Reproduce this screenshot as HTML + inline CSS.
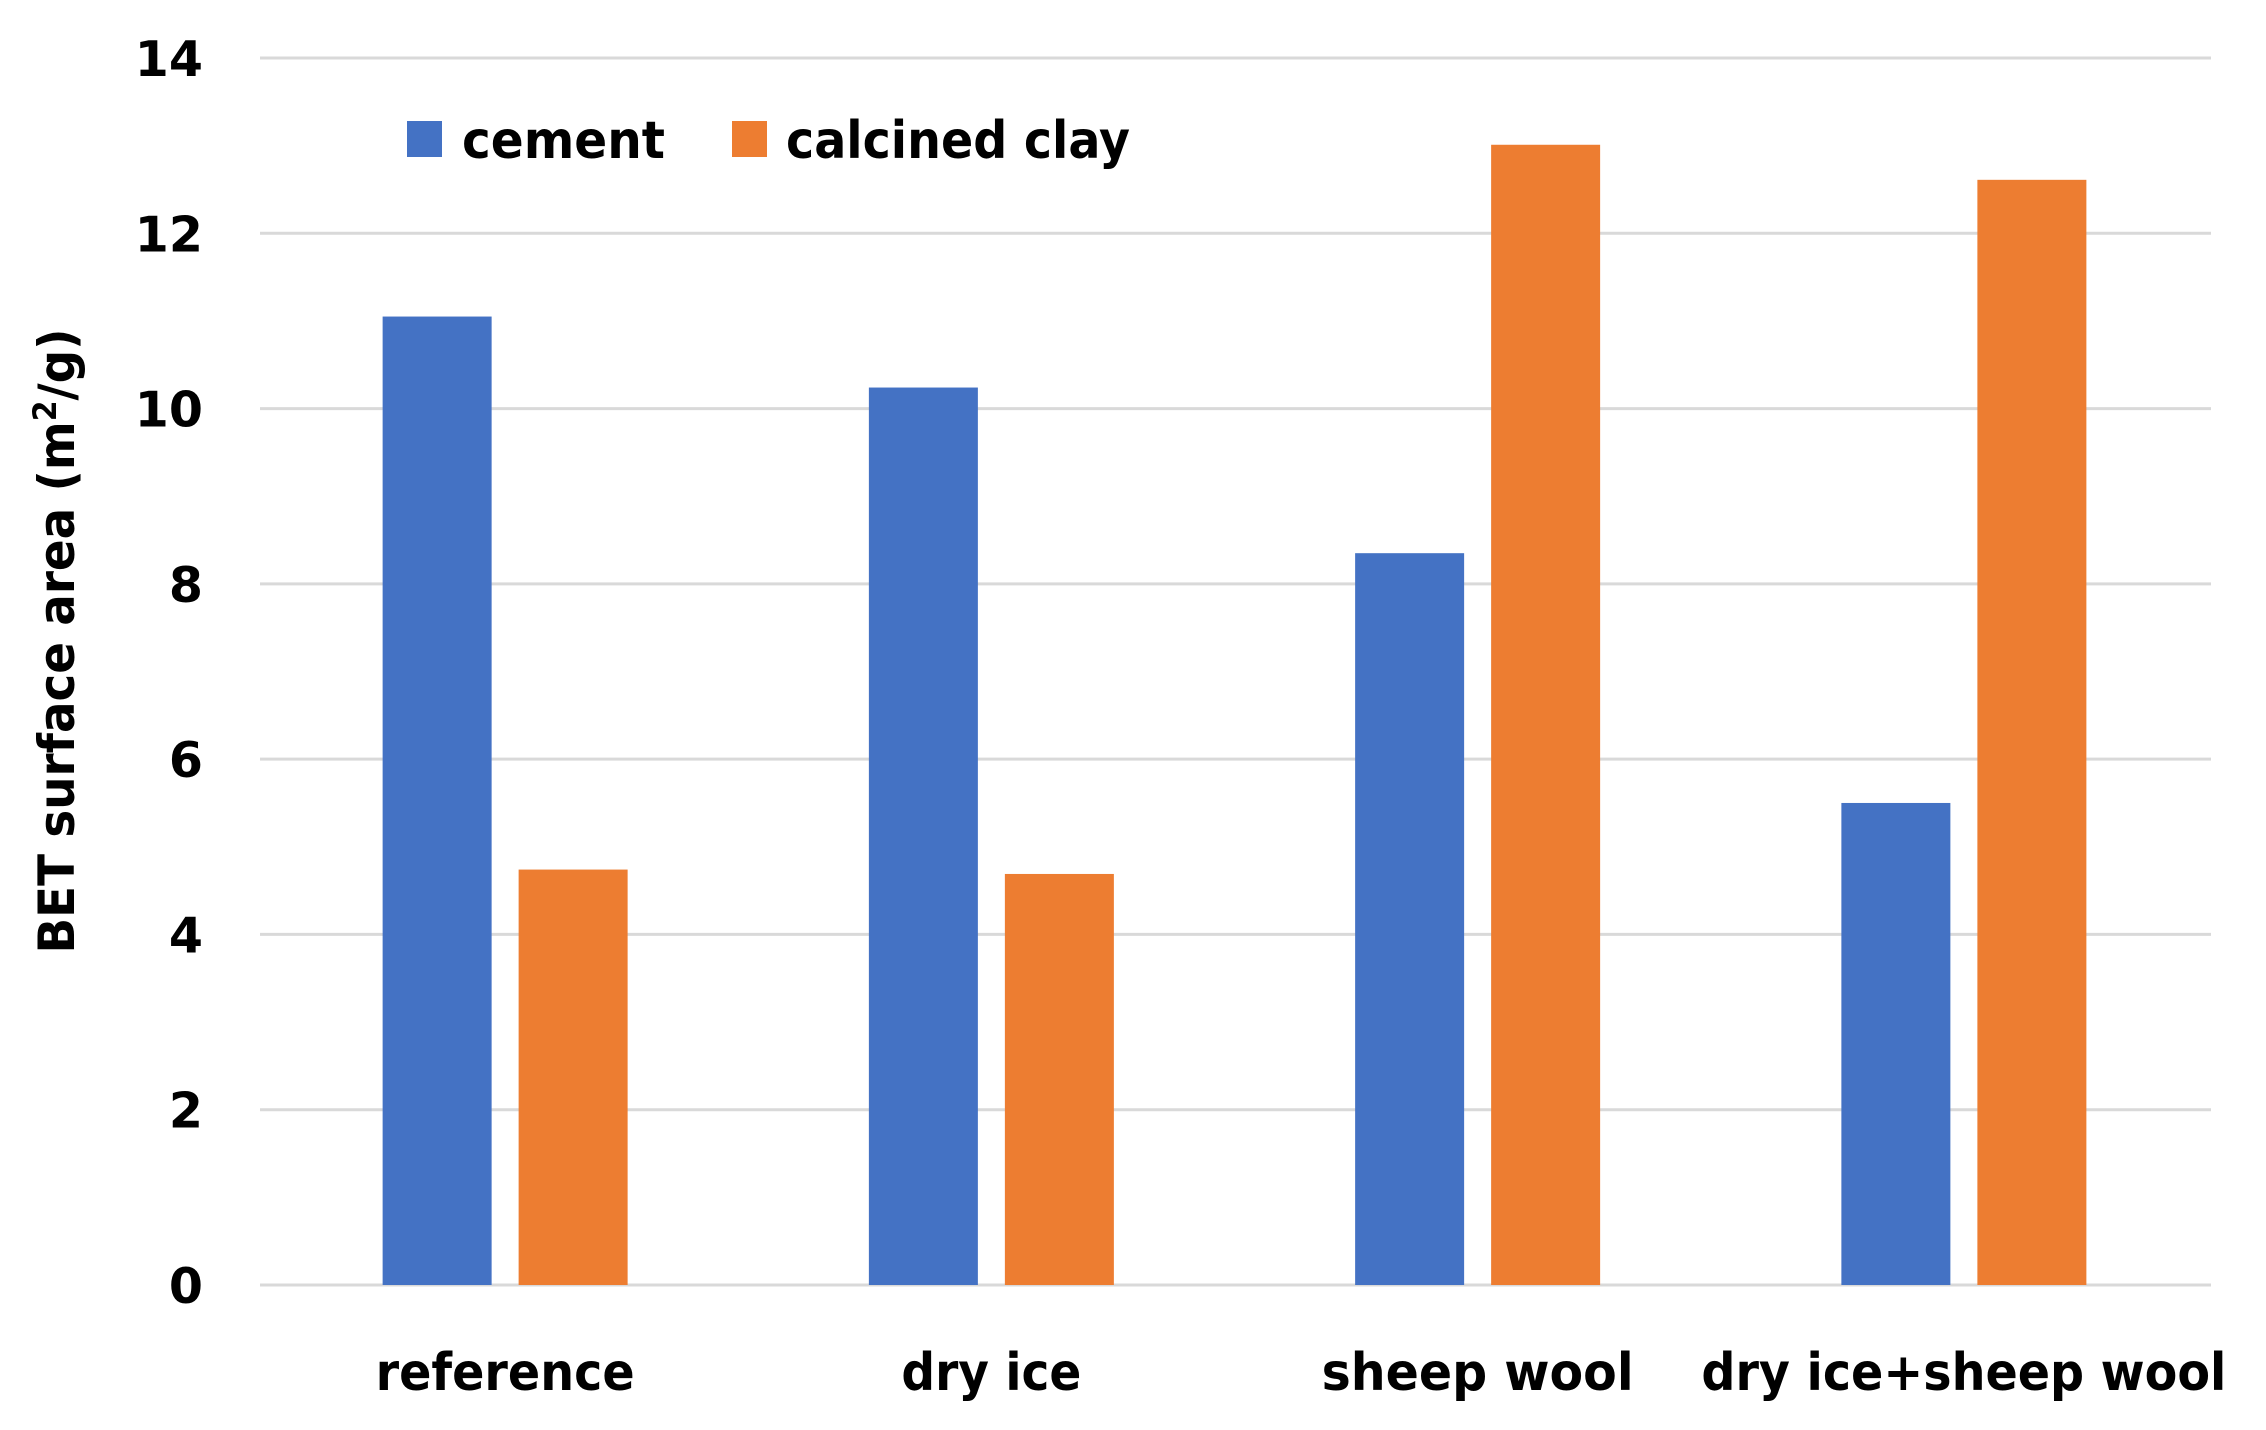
<!DOCTYPE html>
<html><head><meta charset="utf-8"><style>
html,body{margin:0;padding:0;background:#fff;}
svg{display:block;}
text{font-family:"DejaVu Sans","Liberation Sans",sans-serif;font-weight:bold;fill:#000;}
</style></head>
<body>
<svg id="chart" width="2266" height="1430" viewBox="0 0 2266 1430" xmlns="http://www.w3.org/2000/svg">
<g id="grid"></g>
<g id="yticks"></g>
<g id="bars"></g>
<g id="xlabels"></g>
<text transform="translate(74,641) rotate(-90)" text-anchor="middle" font-size="50" textLength="625" lengthAdjust="spacingAndGlyphs">BET surface area (m<tspan dy="-18" font-size="32">2</tspan><tspan dy="18">/g)</tspan></text>
<g>
  <rect x="407" y="121" width="35" height="36" fill="#4472C4"/>
  <text x="462" y="158" font-size="52" textLength="203" lengthAdjust="spacingAndGlyphs">cement</text>
  <rect x="732" y="121" width="35" height="36" fill="#ED7D31"/>
  <text x="786" y="158" font-size="52" textLength="344" lengthAdjust="spacingAndGlyphs">calcined clay</text>
</g>
</svg>
<script>
const categories = ["reference", "dry ice", "sheep wool", "dry ice+sheep wool"];
const cementValues = [11.05, 10.24, 8.35, 5.50];
const clayValues = [4.74, 4.69, 13.01, 12.61];
const yTicks = [0, 2, 4, 6, 8, 10, 12, 14];
const labelWidths = [259, 180, 312, 525];

const NS = "http://www.w3.org/2000/svg";
const plotL = 262, plotR = 2207, y0 = 1285, y14 = 58;
function yScale(v){ return y0 - (v / 14) * (y0 - y14); }
const catW = (plotR - plotL) / categories.length;
function xCenter(i){ return plotL + catW * (i + 0.5); }
const barW = 109, off = 68;

const grid = document.getElementById('grid');
const yt = document.getElementById('yticks');
yTicks.forEach(t => {
  const l = document.createElementNS(NS, 'line');
  
  
  l.setAttribute('x1', 260); l.setAttribute('x2', 2211);
  l.setAttribute('y1', yScale(t)); l.setAttribute('y2', yScale(t));
  l.setAttribute('stroke', '#d9d9d9'); l.setAttribute('stroke-width', '3');
  grid.appendChild(l);
  const tx = document.createElementNS(NS, 'text');
  
  
  tx.setAttribute('x', 203); tx.setAttribute('y', yScale(t) + 18);
  tx.setAttribute('text-anchor', 'end'); tx.setAttribute('font-size', '49');
  tx.textContent = t;
  yt.appendChild(tx);
});

const bars = document.getElementById('bars');
const xl = document.getElementById('xlabels');
categories.forEach((c, i) => {
  const cx = xCenter(i);
  [[cementValues[i], '#4472C4', -off, 'cement'], [clayValues[i], '#ED7D31', off, 'calcined-clay']].forEach(s => {
    const r = document.createElementNS(NS, 'rect');
    
    
    r.setAttribute('x', cx + s[2] - barW / 2);
    r.setAttribute('width', barW);
    r.setAttribute('y', yScale(s[0]));
    r.setAttribute('height', yScale(0) - yScale(s[0]));
    r.setAttribute('fill', s[1]);
    bars.appendChild(r);
  });
  const t = document.createElementNS(NS, 'text');
  
  
  t.setAttribute('x', cx); t.setAttribute('y', 1390);
  t.setAttribute('text-anchor', 'middle'); t.setAttribute('font-size', '52');
  t.setAttribute('textLength', labelWidths[i]);
  t.setAttribute('lengthAdjust', 'spacingAndGlyphs');
  t.textContent = c;
  xl.appendChild(t);
});
</script>
</body></html>
